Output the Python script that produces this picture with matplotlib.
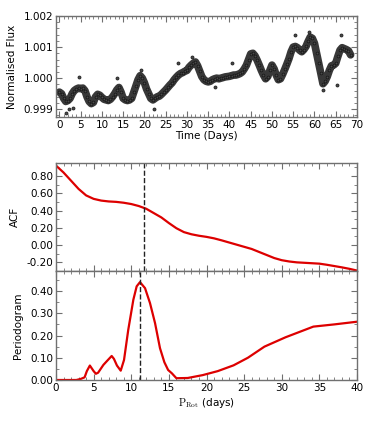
import numpy as np
import matplotlib
matplotlib.use("Agg")
import matplotlib.pyplot as plt
from matplotlib.ticker import MultipleLocator, FormatStrFormatter

plt.rcParams['mathtext.fontset'] = 'cm'
plt.rcParams['font.family'] = ['DejaVu Sans']

# ---- Light curve (0.5-day sampling) ----
time_days = np.arange(0, 68.75, 0.5)
flux = [0.99955, 0.99950, 0.99935, 0.99925, 0.99928, 0.99935, 0.99950, 0.99960, 0.99965, 0.99968,
        0.99966, 0.99968, 0.99960, 0.99940, 0.99925, 0.99918, 0.99922, 0.99940, 0.99948, 0.99945,
        0.99938, 0.99932, 0.99930, 0.99928, 0.99932, 0.99940, 0.99950, 0.99962, 0.99970, 0.99955,
        0.99935, 0.99930, 0.99928, 0.99930, 0.99935, 0.99955, 0.99975, 0.99995, 1.00008, 1.00000,
        0.99985, 0.99965, 0.99950, 0.99935, 0.99930, 0.99935, 0.99940, 0.99942, 0.99948, 0.99955,
        0.99962, 0.99970, 0.99978, 0.99985, 0.99995, 1.00003, 1.00010, 1.00015, 1.00018, 1.00022,
        1.00025, 1.00035, 1.00042, 1.00048, 1.00052, 1.00040, 1.00022, 1.00005, 0.99995, 0.99990,
        0.99988, 0.99990, 0.99995, 0.99998, 1.00000, 0.99998, 1.00000, 1.00002, 1.00004, 1.00005,
        1.00006, 1.00008, 1.00010, 1.00010, 1.00012, 1.00015, 1.00020, 1.00030, 1.00042, 1.00060,
        1.00078, 1.00080, 1.00072, 1.00058, 1.00042, 1.00025, 1.00010, 0.99998, 1.00005, 1.00025,
        1.00042, 1.00030, 1.00010, 0.99995, 0.99998, 1.00012, 1.00028, 1.00045, 1.00063, 1.00085,
        1.00100, 1.00102, 1.00098, 1.00090, 1.00085, 1.00092, 1.00102, 1.00118, 1.00132, 1.00128,
        1.00112, 1.00080, 1.00048, 1.00015, 0.99982, 0.99990, 1.00005, 1.00025, 1.00040, 1.00042,
        1.00048, 1.00070, 1.00090, 1.00098, 1.00095, 1.00092, 1.00088, 1.00075]
outlier_t = [1.5, 2.3, 3.1, 4.6, 13.6, 19.3, 22.2, 27.8, 31.2, 36.5, 40.5, 55.4, 58.7, 62.1, 65.2, 66.3]
outlier_f = [0.99888, 0.99902, 0.99905, 1.00003, 1.00000, 1.00025, 0.99902, 1.00048, 1.00068, 0.99970,
             1.00048, 1.00140, 1.00148, 0.99962, 0.99978, 1.00138]

# ---- ACF ----
acf_lag = np.arange(0, 41, 1)
acf = [0.92, 0.84, 0.745, 0.65, 0.575, 0.535, 0.515, 0.505, 0.500, 0.490,
       0.475, 0.452, 0.42, 0.37, 0.32, 0.255, 0.195, 0.15, 0.125, 0.108,
       0.095, 0.078, 0.055, 0.03, 0.005, -0.02, -0.045, -0.08, -0.115, -0.15,
       -0.175, -0.19, -0.2, -0.205, -0.21, -0.215, -0.228, -0.243, -0.258, -0.275, -0.295]
acf_period = 11.7

# ---- Periodogram ----
pg_period = [0, 2.7, 3.3, 3.8, 4.1, 4.5, 5.0, 5.3, 5.6, 6.3, 6.9, 7.4, 7.7, 8.1, 8.6, 9.04, 9.6,
             10.28, 10.72, 11.16, 11.83, 12.49, 13.16, 13.82, 14.4, 14.9, 15.4, 16.0,
             17.5, 19.5, 21.5, 23.6, 25.5, 27.7, 30.5, 34.2, 37.0, 40.0]
pg_power = [0, 0, 0.005, 0.012, 0.04, 0.065, 0.04, 0.028, 0.033, 0.068, 0.09, 0.108, 0.095, 0.065,
            0.042, 0.09, 0.225, 0.361, 0.421, 0.44, 0.413, 0.346, 0.256, 0.143, 0.08, 0.045, 0.03,
            0.008, 0.009, 0.022, 0.04, 0.066, 0.1, 0.15, 0.192, 0.24, 0.25, 0.262]
pg_period_peak = 11.15

W, H = 374, 421
fig = plt.figure(figsize=(W / 100, H / 100), dpi=100)

def frac(l, t, r, b):
    return [l / W, 1 - b / H, (r - l) / W, (b - t) / H]

ax1 = fig.add_axes(frac(56, 16, 357, 117))
ax2 = fig.add_axes(frac(56, 163, 357, 271))
ax3 = fig.add_axes(frac(56, 271, 357, 380), sharex=ax2)

FS = 7.5
red = '#dd0000'

def style(ax):
    for s in ax.spines.values():
        s.set_color('#707070')
        s.set_linewidth(1.0)
    ax.tick_params(which='both', direction='in', top=True, right=True, color='#707070',
                   labelsize=FS, pad=2)
    ax.tick_params(which='major', length=4, width=0.8)
    ax.tick_params(which='minor', length=2, width=0.6)

# Light curve
ax1.plot(time_days, flux, color='#383838', lw=5.5, solid_joinstyle='round', solid_capstyle='round', zorder=2)
ax1.plot(time_days, flux, 'o', ms=2.0, color='#4a4a4a', mec='#151515', mew=0.5, zorder=3)
ax1.plot(outlier_t, outlier_f, 'o', ms=2.2, color='#4a4a4a', mec='#151515', mew=0.5, zorder=3)
ax1.set_xlim(-0.8, 70)
ax1.set_ylim(0.99875, 1.002)
ax1.xaxis.set_major_locator(MultipleLocator(5))
ax1.xaxis.set_minor_locator(MultipleLocator(1))
ax1.yaxis.set_major_locator(MultipleLocator(0.001))
ax1.yaxis.set_minor_locator(MultipleLocator(0.0002))
ax1.yaxis.set_major_formatter(FormatStrFormatter('%.3f'))
ax1.set_xlabel('Time (Days)', fontsize=FS, labelpad=1)
ax1.set_ylabel('Normalised Flux', fontsize=FS)
ax1.yaxis.set_label_coords(-0.13, 0.5)
style(ax1)

# ACF
ax2.plot(acf_lag, acf, color=red, lw=1.6)
ax2.axvline(acf_period, color='#222222', ls='--', lw=1.0)
ax2.set_xlim(0, 40)
ax2.set_ylim(-0.30, 0.95)
ax2.yaxis.set_major_locator(MultipleLocator(0.2))
ax2.yaxis.set_minor_locator(MultipleLocator(0.1))
ax2.yaxis.set_major_formatter(FormatStrFormatter('%.2f'))
ax2.set_ylabel('ACF', fontsize=FS)
ax2.yaxis.set_label_coords(-0.12, 0.5)
ax2.tick_params(labelbottom=False)
style(ax2)

# Periodogram
ax3.plot(pg_period, pg_power, color=red, lw=1.6)
ax3.axvline(pg_period_peak, color='#222222', ls='--', lw=1.0)
ax3.set_xlim(0, 40)
ax3.set_ylim(0, 0.49)
ax3.xaxis.set_major_locator(MultipleLocator(5))
ax3.xaxis.set_minor_locator(MultipleLocator(1))
ax3.yaxis.set_major_locator(MultipleLocator(0.1))
ax3.yaxis.set_minor_locator(MultipleLocator(0.05))
ax3.yaxis.set_major_formatter(FormatStrFormatter('%.2f'))
ax3.set_xlabel(r'$\mathrm{P_{Rot}}$ (days)', fontsize=FS, labelpad=2)
ax3.set_ylabel('Periodogram', fontsize=FS)
ax3.yaxis.set_label_coords(-0.11, 0.5)
style(ax3)

fig.savefig('out.png', dpi=100)
